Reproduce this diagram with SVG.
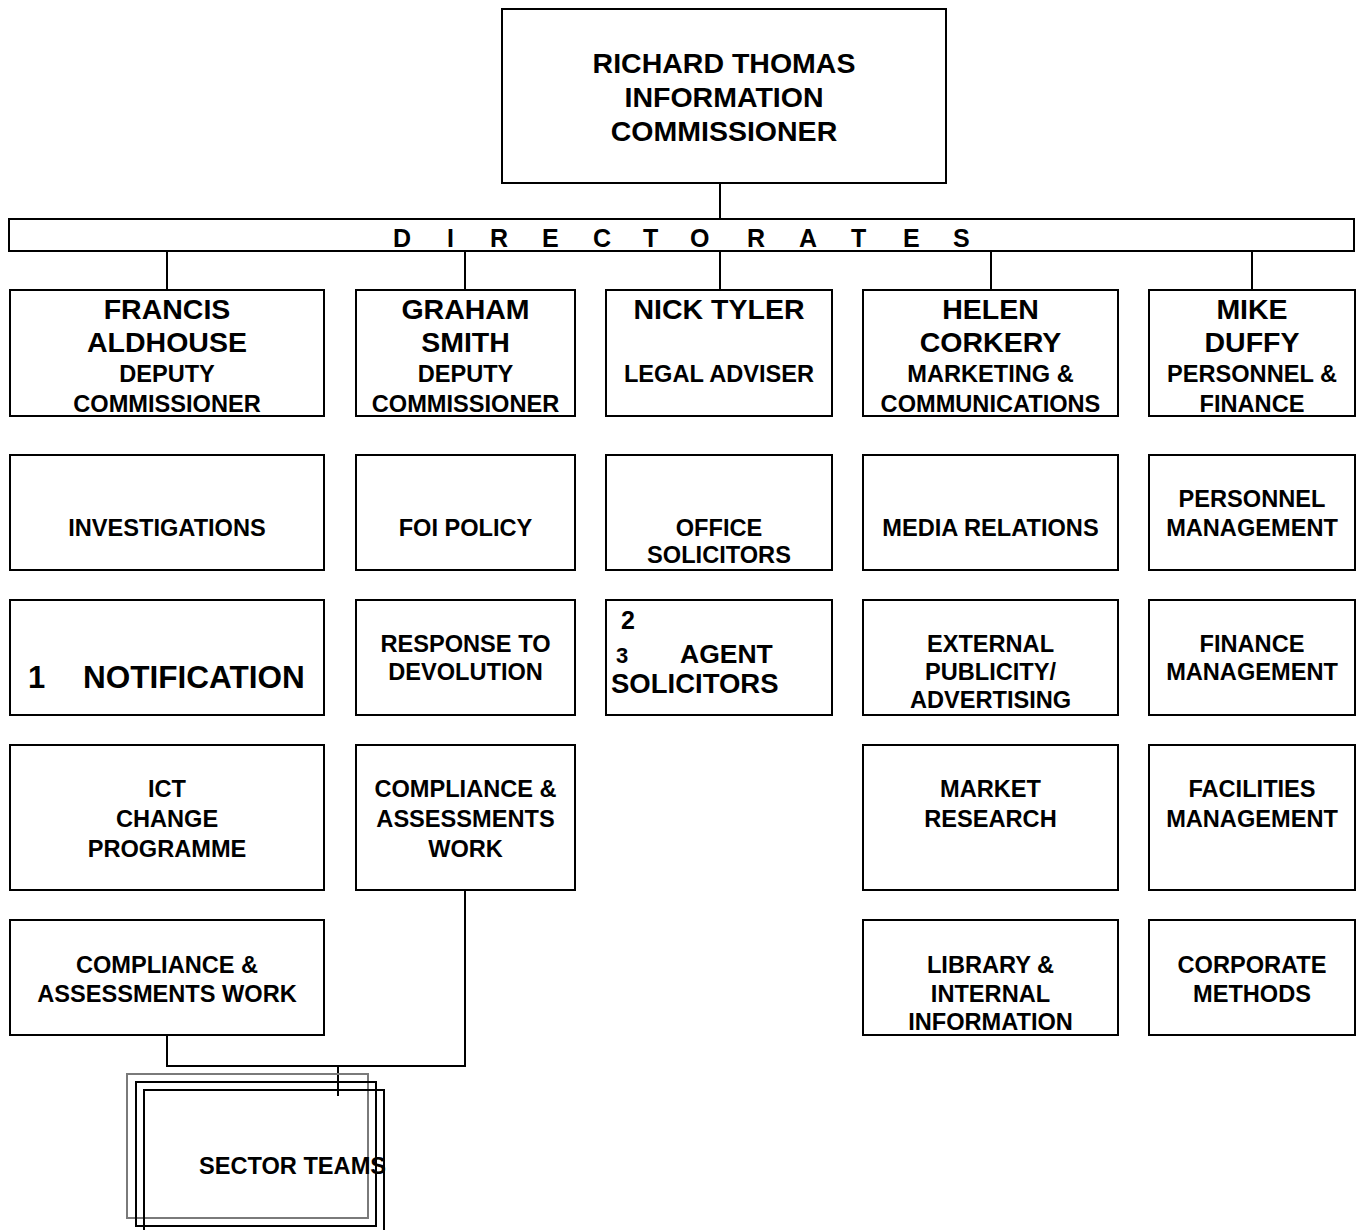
<svg xmlns="http://www.w3.org/2000/svg" width="1362" height="1230" viewBox="0 0 1362 1230">
<style>
  .box { fill: #ffffff; stroke: #000000; stroke-width: 2; }
  .st { fill: none; stroke-width: 2; }
  .ln { fill: none; stroke: #000000; stroke-width: 2; }
  text { font-family: "Liberation Sans", Arial, sans-serif; font-weight: bold; fill: #000000; }
  .t { font-size: 23.6px; text-anchor: middle; }
  .n { font-size: 28.5px; text-anchor: middle; }
  .h { font-size: 28.5px; text-anchor: middle; }
</style>
<rect width="1362" height="1230" fill="#ffffff"/>

<g id="connectors">
  <line class="ln" x1="720" y1="183" x2="720" y2="219"/>
  <line class="ln" x1="167" y1="251" x2="167" y2="290"/>
  <line class="ln" x1="465" y1="251" x2="465" y2="290"/>
  <line class="ln" x1="720" y1="251" x2="720" y2="290"/>
  <line class="ln" x1="991" y1="251" x2="991" y2="290"/>
  <line class="ln" x1="1252" y1="251" x2="1252" y2="290"/>
  <polyline class="ln" points="167,1035 167,1066 465,1066 465,890"/>
  <line class="ln" x1="338" y1="1066" x2="338" y2="1096"/>
</g>

<g id="commissioner">
  <rect class="box" x="502" y="9" width="444" height="174"/>
  <text class="h" x="724" y="73">RICHARD THOMAS</text>
  <text class="h" x="724" y="107">INFORMATION</text>
  <text class="h" x="724" y="141">COMMISSIONER</text>
</g>

<g id="directorates">
  <rect class="box" x="9" y="219" width="1345" height="32"/>
  <text font-size="25" y="247" x="393 420 447 470 490 516 542 568 593 618 643 666 690 719 747 773 799 825 851 877 903 929 953">D I R E C T O R A T E S</text>
</g>

<g id="francis">
  <rect class="box" x="10" y="290" width="314" height="126"/>
  <text class="n" x="167" y="319">FRANCIS</text>
  <text class="n" x="167" y="352">ALDHOUSE</text>
  <text class="t" x="167" y="382">DEPUTY</text>
  <text class="t" x="167" y="412">COMMISSIONER</text>
</g>
<g id="graham">
  <rect class="box" x="356" y="290" width="219" height="126"/>
  <text class="n" x="465.5" y="319">GRAHAM</text>
  <text class="n" x="465.5" y="352">SMITH</text>
  <text class="t" x="465.5" y="382">DEPUTY</text>
  <text class="t" x="465.5" y="412">COMMISSIONER</text>
</g>
<g id="nick">
  <rect class="box" x="606" y="290" width="226" height="126"/>
  <text class="n" x="719" y="319">NICK TYLER</text>
  <text class="t" x="719" y="382">LEGAL ADVISER</text>
</g>
<g id="helen">
  <rect class="box" x="863" y="290" width="255" height="126"/>
  <text class="n" x="990.5" y="319">HELEN</text>
  <text class="n" x="990.5" y="352">CORKERY</text>
  <text class="t" x="990.5" y="382">MARKETING &amp;</text>
  <text class="t" x="990.5" y="412">COMMUNICATIONS</text>
</g>
<g id="mike">
  <rect class="box" x="1149" y="290" width="206" height="126"/>
  <text class="n" x="1252" y="319">MIKE</text>
  <text class="n" x="1252" y="352">DUFFY</text>
  <text class="t" x="1252" y="382">PERSONNEL &amp;</text>
  <text class="t" x="1252" y="412">FINANCE</text>
</g>

<g id="investigations">
  <rect class="box" x="10" y="455" width="314" height="115"/>
  <text class="t" x="167" y="536">INVESTIGATIONS</text>
</g>
<g id="foi-policy">
  <rect class="box" x="356" y="455" width="219" height="115"/>
  <text class="t" x="465.5" y="536">FOI POLICY</text>
</g>
<g id="office-solicitors">
  <rect class="box" x="606" y="455" width="226" height="115"/>
  <text class="t" x="719" y="536">OFFICE</text>
  <text class="t" x="719" y="563">SOLICITORS</text>
</g>
<g id="media-relations">
  <rect class="box" x="863" y="455" width="255" height="115"/>
  <text class="t" x="990.5" y="536">MEDIA RELATIONS</text>
</g>
<g id="personnel-management">
  <rect class="box" x="1149" y="455" width="206" height="115"/>
  <text class="t" x="1252" y="507">PERSONNEL</text>
  <text class="t" x="1252" y="536">MANAGEMENT</text>
</g>

<g id="notification">
  <rect class="box" x="10" y="600" width="314" height="115"/>
  <text font-size="31" x="28" y="688">1</text>
  <text font-size="31.5" x="83" y="688">NOTIFICATION</text>
</g>
<g id="devolution">
  <rect class="box" x="356" y="600" width="219" height="115"/>
  <text class="t" x="465.5" y="652">RESPONSE TO</text>
  <text class="t" x="465.5" y="680">DEVOLUTION</text>
</g>
<g id="agent-solicitors">
  <rect class="box" x="606" y="600" width="226" height="115"/>
  <text font-size="25" x="621" y="629">2</text>
  <text font-size="22" x="616" y="663">3</text>
  <text font-size="26.5" x="680" y="663">AGENT</text>
  <text font-size="27.5" x="611" y="693">SOLICITORS</text>
</g>
<g id="external-publicity">
  <rect class="box" x="863" y="600" width="255" height="115"/>
  <text class="t" x="990.5" y="652">EXTERNAL</text>
  <text class="t" x="990.5" y="680">PUBLICITY/</text>
  <text class="t" x="990.5" y="708">ADVERTISING</text>
</g>
<g id="finance-management">
  <rect class="box" x="1149" y="600" width="206" height="115"/>
  <text class="t" x="1252" y="652">FINANCE</text>
  <text class="t" x="1252" y="680">MANAGEMENT</text>
</g>

<g id="ict-change">
  <rect class="box" x="10" y="745" width="314" height="145"/>
  <text class="t" x="167" y="797">ICT</text>
  <text class="t" x="167" y="827">CHANGE</text>
  <text class="t" x="167" y="857">PROGRAMME</text>
</g>
<g id="compliance-graham">
  <rect class="box" x="356" y="745" width="219" height="145"/>
  <text class="t" x="465.5" y="797">COMPLIANCE &amp;</text>
  <text class="t" x="465.5" y="827">ASSESSMENTS</text>
  <text class="t" x="465.5" y="857">WORK</text>
</g>
<g id="market-research">
  <rect class="box" x="863" y="745" width="255" height="145"/>
  <text class="t" x="990.5" y="797">MARKET</text>
  <text class="t" x="990.5" y="827">RESEARCH</text>
</g>
<g id="facilities-management">
  <rect class="box" x="1149" y="745" width="206" height="145"/>
  <text class="t" x="1252" y="797">FACILITIES</text>
  <text class="t" x="1252" y="827">MANAGEMENT</text>
</g>

<g id="compliance-francis">
  <rect class="box" x="10" y="920" width="314" height="115"/>
  <text class="t" x="167" y="973">COMPLIANCE &amp;</text>
  <text class="t" x="167" y="1002">ASSESSMENTS WORK</text>
</g>
<g id="library">
  <rect class="box" x="863" y="920" width="255" height="115"/>
  <text class="t" x="990.5" y="973">LIBRARY &amp;</text>
  <text class="t" x="990.5" y="1002">INTERNAL</text>
  <text class="t" x="990.5" y="1030">INFORMATION</text>
</g>
<g id="corporate-methods">
  <rect class="box" x="1149" y="920" width="206" height="115"/>
  <text class="t" x="1252" y="973">CORPORATE</text>
  <text class="t" x="1252" y="1002">METHODS</text>
</g>

<g id="sector-teams">
  <rect class="st" x="127" y="1074" width="241" height="144" stroke="#7a7a7a"/>
  <rect class="st" x="136" y="1082" width="240" height="144" stroke="#000000"/>
  <rect class="st" x="144" y="1090" width="240" height="150" stroke="#000000"/>
  <text font-size="23.6" x="199" y="1174">SECTOR TEAMS</text>
</g>
</svg>
